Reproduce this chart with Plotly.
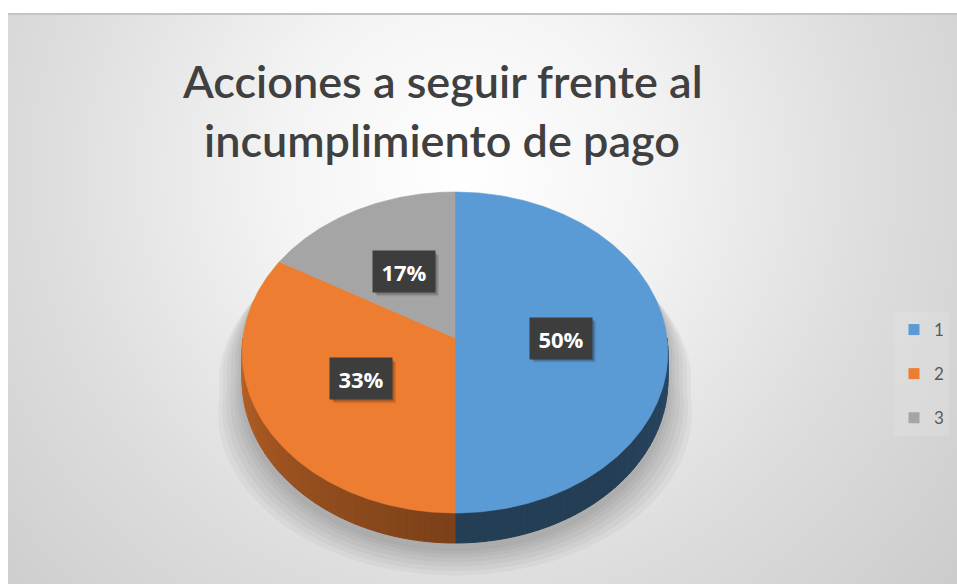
import base64
import numpy as np
import plotly.graph_objects as go

# ---------------- data ----------------
categories = ["1", "2", "3"]
values = [3, 2, 1]
colors = ["#5b9bd5", "#ed7d31", "#a5a5a5"]
title_lines = ["Acciones a seguir frente al", "incumplimiento de pago"]

# ---------------- geometry / style ----------------
W, H = 957, 584
CX = 455.0        # pie centre x (px)
A = 212.0         # horizontal radius
P = 0.0903        # perspective strength
K = 1763.0        # plane distance below horizon
YH = 338.0 - K    # horizon y
T = 27.3          # pie thickness


def proj(r, theta_deg, depth=0.0):
    th = np.radians(theta_deg)
    X = r * np.sin(th)
    Z = -r * np.cos(th)
    s = 1.0 / (1.0 - P * Z)
    return CX + A * X * s, YH + (K + depth) * s


def rgb(hexc):
    hexc = hexc.lstrip("#")
    return [int(hexc[i:i + 2], 16) for i in (0, 2, 4)]


def shade(hexc, f):
    r, g, b = rgb(hexc)
    return "rgb(%d,%d,%d)" % (r * f, g * f, b * f)


def wall_factor(theta):
    return float(np.interp(theta, [90, 140, 180, 180.01, 230, 270],
                           [0.47, 0.40, 0.40, 0.52, 0.66, 0.80]))


total = float(sum(values))
bounds = []
acc = 0.0
for v in values:
    a0 = acc / total * 360.0
    acc += v
    a1 = acc / total * 360.0
    bounds.append((a0, a1))

fig = go.Figure()

# ---------------- soft shadow ----------------
sil_top = np.linspace(270, 450, 120)
sil_bot = np.linspace(90, 270, 120)
sx = []
sy = []
for t in sil_top:
    x, y = proj(1, t)
    sx.append(x); sy.append(y)
for t in sil_bot:
    x, y = proj(1, t, T)
    sx.append(x); sy.append(y)
sx = np.array(sx); sy = np.array(sy)
for d in [24, 20, 16, 12, 8, 5, 2]:
    xx = CX + (sx - CX) * (1 + d / A)
    yy = sy + d * 1.1 + 6
    fig.add_trace(go.Scatter(x=list(xx) + [xx[0]], y=list(yy) + [yy[0]], mode="lines",
                             fill="toself", fillcolor="rgba(0,0,0,0.035)",
                             line=dict(width=0), hoverinfo="skip", showlegend=False))

# ---------------- side walls ----------------
for (a0, a1), c in zip(bounds, colors):
    lo, hi = max(a0, 90.0), min(a1, 270.0)
    if hi <= lo:
        continue
    n = max(2, int(np.ceil((hi - lo) / 1.5)))
    edges = np.linspace(lo, hi, n + 1)
    for t0, t1 in zip(edges[:-1], edges[1:]):
        ts = np.linspace(t0, t1, 3)
        top = [proj(1, t) for t in ts]
        bot = [proj(1, t, T) for t in ts[::-1]]
        pts = top + bot + [top[0]]
        col = shade(c, wall_factor((t0 + t1) / 2))
        fig.add_trace(go.Scatter(x=[p[0] for p in pts], y=[p[1] for p in pts],
                                 mode="lines", fill="toself", fillcolor=col,
                                 line=dict(width=1, color=col),
                                 hoverinfo="skip", showlegend=False))

# ---------------- top faces ----------------
for (a0, a1), c, cat in zip(bounds, colors, categories):
    ts = np.linspace(a0, a1, max(3, int((a1 - a0) / 0.5)))
    pts = [proj(0, 0)] + [proj(1, t) for t in ts] + [proj(0, 0)]
    fig.add_trace(go.Scatter(x=[p[0] for p in pts], y=[p[1] for p in pts],
                             mode="lines", fill="toself", fillcolor=c,
                             line=dict(width=0.6, color=c),
                             hoverinfo="skip", showlegend=False))

# ---------------- legend entries ----------------
for c, cat in zip(colors, categories):
    fig.add_trace(go.Scatter(x=[None], y=[None], mode="markers", name=cat,
                             legendgroup=cat,
                             marker=dict(symbol="square", size=11, color=c)))

# ---------------- data labels ----------------
annotations = []
shapes = []
LBL_W, LBL_H, LBL_PAD = 48, 27, 7
for (a0, a1), v in zip(bounds, values):
    mx, my = proj(0.5, (a0 + a1) / 2)
    txt = "%d%%" % round(100 * v / total)
    hw = LBL_W / 2 + LBL_PAD
    hh = LBL_H / 2 + LBL_PAD
    for k, op in [(4, 0.08), (3, 0.10), (2, 0.12)]:
        shapes.append(dict(type="rect", xref="x", yref="y", layer="above",
                           x0=mx - hw + k, x1=mx + hw + k, y0=my - hh + k, y1=my + hh + k,
                           fillcolor="rgba(0,0,0,%.2f)" % op, line=dict(width=0)))
    annotations.append(dict(x=mx, y=my, xref="x", yref="y", text="<b>%s</b>" % txt,
                            showarrow=False, bgcolor="#3d3d3d", borderpad=LBL_PAD,
                            width=LBL_W, height=LBL_H,
                            font=dict(family="Open Sans", size=22, color="white")))

# ---------------- title ----------------
for i, line in enumerate(title_lines):
    annotations.append(dict(x=442, y=81 + 59 * i, xref="x", yref="y", text=line,
                            showarrow=False, xanchor="center", yanchor="middle",
                            font=dict(family="Lato", size=45, weight=600, color="#404040")))

# ---------------- background gradient ----------------
bw, bh = W - 8, H - 13
svg = f'''<svg xmlns="http://www.w3.org/2000/svg" width="{bw}" height="{bh}" viewBox="0 0 {bw} {bh}">
<defs><radialGradient id="g" gradientUnits="userSpaceOnUse" cx="455" cy="160" r="640">
<stop offset="0" stop-color="#ffffff"/><stop offset="0.28" stop-color="#f4f4f4"/>
<stop offset="0.65" stop-color="#dddddd"/><stop offset="1" stop-color="#cccccc"/>
</radialGradient></defs>
<rect x="0" y="0" width="{bw}" height="{bh}" fill="url(#g)"/>
<rect x="0" y="0" width="{bw}" height="2" fill="#c4c4c4"/>
</svg>'''
src = "data:image/svg+xml;base64," + base64.b64encode(svg.encode()).decode()

fig.update_layout(
    width=W, height=H,
    margin=dict(l=0, r=0, t=0, b=0),
    paper_bgcolor="white",
    plot_bgcolor="rgba(0,0,0,0)",
    xaxis=dict(range=[0, W], visible=False, fixedrange=True),
    yaxis=dict(range=[H, 0], visible=False, fixedrange=True),
    images=[dict(source=src, xref="paper", yref="paper", x=8 / W, y=1 - 13 / H,
                 sizex=bw / W, sizey=bh / H, sizing="stretch", layer="below",
                 xanchor="left", yanchor="top")],
    annotations=annotations,
    shapes=shapes,
    showlegend=True,
    legend=dict(x=894 / W, y=1 - 312 / H, xanchor="left", yanchor="top",
                bgcolor="rgba(255,255,255,0.12)", tracegroupgap=19,
                font=dict(family="Lato", size=17, color="#595959")),
)

fig.write_html("out.html", config={"displayModeBar": False},
               post_script="document.body.style.margin='0';")
